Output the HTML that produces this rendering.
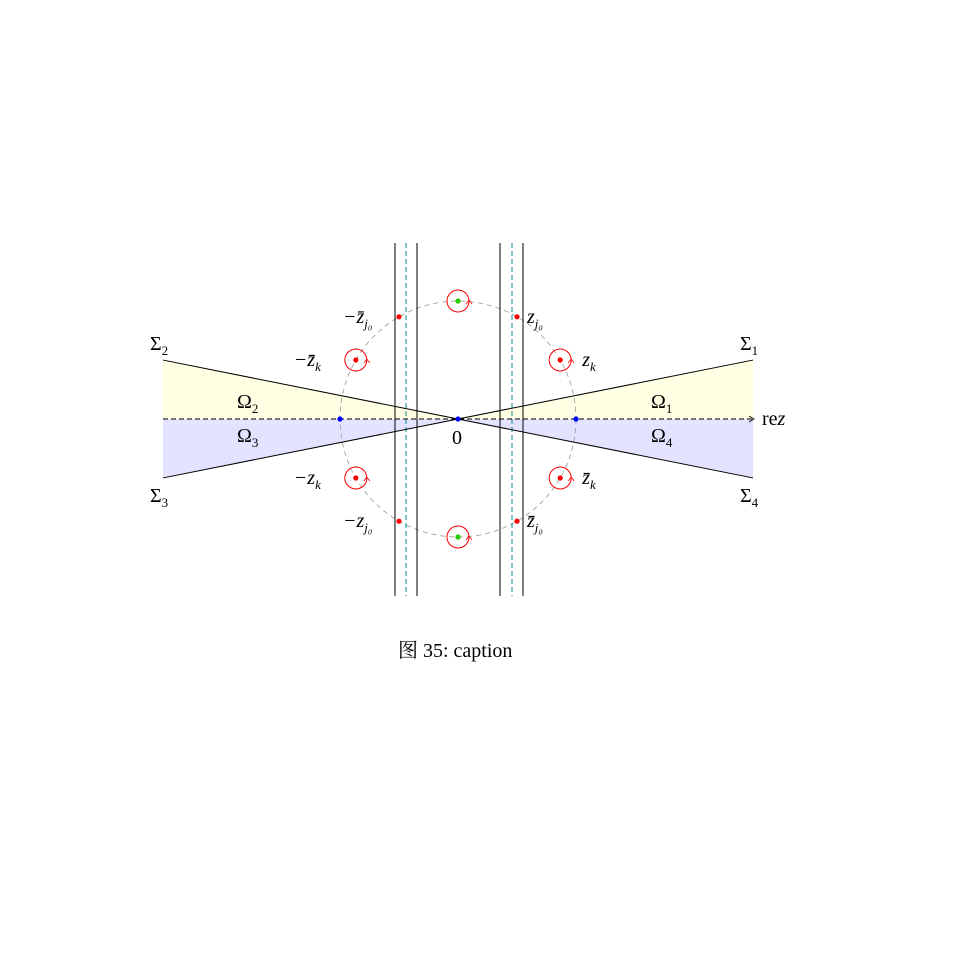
<!DOCTYPE html>
<html><head><meta charset="utf-8"><style>
body{margin:0;background:#fff;}
svg text{font-family:"Liberation Serif","Noto Serif CJK SC",serif;}
</style></head><body>
<svg width="970" height="963" viewBox="0 0 970 963">
<g id="fills"></g>
<g id="lines"></g>
<g id="marks"></g>
<g id="labels"></g>
</svg>
<script>
const cx=458, cy=419, R=118, half=295;
const sigmaSlopeDeg=[11.3];
const redAngles=[30,60,120,150,210,240,300,330];
const redCircled=[30,150,210,330];
const greenAngles=[90,270];
const blueAngles=[0,180];
const vlineX=[395,417,500,523];
const dashedX=[406,512];
const pointLabels=[
 {a:60,t:"z",sub:"j₀",dx:10,dy:6,bar:false,neg:false},
 {a:30,t:"z",sub:"k",dx:22,dy:6,bar:false,neg:false},
 {a:120,t:"−z̄",sub:"j₀",dx:-56,dy:6,bar:true,neg:true},
 {a:150,t:"−z̄",sub:"k",dx:-62,dy:6,bar:true,neg:true},
 {a:210,t:"−z",sub:"k",dx:-62,dy:6,bar:false,neg:true},
 {a:240,t:"−z",sub:"j₀",dx:-56,dy:6,bar:false,neg:true},
 {a:330,t:"z̄",sub:"k",dx:22,dy:6,bar:true,neg:false},
 {a:300,t:"z̄",sub:"j₀",dx:10,dy:6,bar:true,neg:false}
];
const NS="http://www.w3.org/2000/svg";
function mk(tag,attrs,parent){const e=document.createElementNS(NS,tag);for(const k in attrs)e.setAttribute(k,attrs[k]);document.getElementById(parent).appendChild(e);return e;}
function px(a){return cx+R*Math.cos(a*Math.PI/180);}
function py(a){return cy-R*Math.sin(a*Math.PI/180);}
const dy=half*Math.tan(sigmaSlopeDeg[0]*Math.PI/180);
const L=cx-half, Rt=cx+half;
let e;
e=mk("polygon",{points:`${L},${cy-dy} ${cx},${cy} ${L},${cy}`,fill:"#ffffe3"},"fills");

e=mk("polygon",{points:`${Rt},${cy-dy} ${cx},${cy} ${Rt},${cy}`,fill:"#ffffe3"},"fills");

e=mk("polygon",{points:`${L},${cy+dy} ${cx},${cy} ${L},${cy}`,fill:"#e3e3ff"},"fills");

e=mk("polygon",{points:`${Rt},${cy+dy} ${cx},${cy} ${Rt},${cy}`,fill:"#e3e3ff"},"fills");

e=mk("circle",{cx:cx,cy:cy,r:R,fill:"none",stroke:"#999","stroke-width":0.8,"stroke-dasharray":"5,4"},"lines");

vlineX.forEach(x=>{e=mk("line",{x1:x,y1:243,x2:x,y2:596,stroke:"#000","stroke-width":1},"lines");
});
dashedX.forEach(x=>{e=mk("line",{x1:x,y1:243,x2:x,y2:596,stroke:"#008b8b","stroke-width":1,"stroke-dasharray":"5,3"},"lines");
});
e=mk("line",{x1:L,y1:cy,x2:Rt,y2:cy,stroke:"#000","stroke-width":1,"stroke-dasharray":"5,3"},"lines");

e=mk("path",{d:`M${Rt-4},${cy-3} L${Rt+1},${cy} L${Rt-4},${cy+3}`,fill:"none",stroke:"#000","stroke-width":0.8},"lines");

e=mk("line",{x1:L,y1:cy-dy,x2:Rt,y2:cy+dy,stroke:"#000","stroke-width":1},"lines");

e=mk("line",{x1:L,y1:cy+dy,x2:Rt,y2:cy-dy,stroke:"#000","stroke-width":1},"lines");

function loop(x,y){
 e=mk("circle",{cx:x,cy:y,r:11,fill:"none",stroke:"red","stroke-width":1},"marks");
 
 e=mk("path",{d:`M${x+8},${y+3} L${x+11},${y-1} L${x+14},${y+3}`,fill:"none",stroke:"red","stroke-width":0.8},"marks");
 
}
redCircled.forEach(a=>loop(px(a),py(a)));
greenAngles.forEach(a=>loop(px(a),py(a)));
redAngles.forEach(a=>{e=mk("circle",{cx:px(a),cy:py(a),r:2.6,fill:"red"},"marks");
});
greenAngles.forEach(a=>{e=mk("circle",{cx:px(a),cy:py(a),r:2.6,fill:"#22cc00"},"marks");
});
blueAngles.forEach(a=>{e=mk("circle",{cx:px(a),cy:py(a),r:2.6,fill:"blue"},"marks");
});
e=mk("circle",{cx:cx,cy:cy,r:2.6,fill:"blue"},"marks");

function txt(x,y,html,size,name){e=mk("text",{x:x,y:y,"font-size":size},"labels");e.innerHTML=html;
}
pointLabels.forEach(p=>{
 txt(px(p.a)+p.dx,py(p.a)+p.dy,`<tspan font-style="italic">${p.t}</tspan><tspan font-size="13" dy="5" font-style="italic">${p.sub}</tspan>`,20,'point-label');
});
txt(cx-6,cy+25,"0",20,'origin-label');
txt(762,cy+6,`re<tspan font-style="italic">z</tspan>`,20,'axis-label');
txt(150,350,`Σ<tspan font-size="13" dy="5">2</tspan>`,20,'sigma2-label');
txt(740,350,`Σ<tspan font-size="13" dy="5">1</tspan>`,20,'sigma1-label');
txt(150,502,`Σ<tspan font-size="13" dy="5">3</tspan>`,20,'sigma3-label');
txt(740,502,`Σ<tspan font-size="13" dy="5">4</tspan>`,20,'sigma4-label');
txt(237,408,`Ω<tspan font-size="13" dy="5">2</tspan>`,20,'omega2-label');
txt(651,408,`Ω<tspan font-size="13" dy="5">1</tspan>`,20,'omega1-label');
txt(237,442,`Ω<tspan font-size="13" dy="5">3</tspan>`,20,'omega3-label');
txt(651,442,`Ω<tspan font-size="13" dy="5">4</tspan>`,20,'omega4-label');
txt(398,657,"图 35: caption",20,'figure-caption');
</script>
</body></html>
